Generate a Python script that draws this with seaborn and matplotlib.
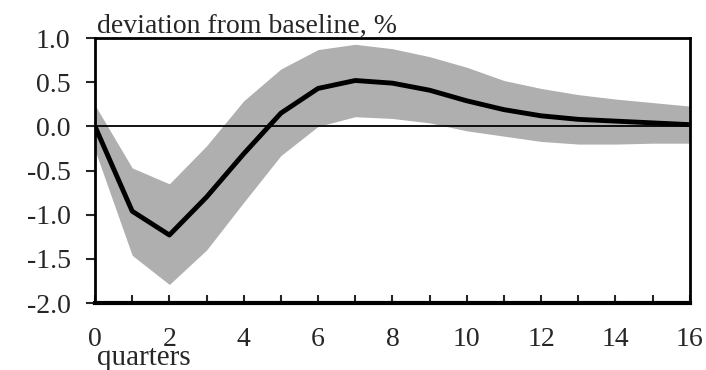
import seaborn as sns
import matplotlib.pyplot as plt
import numpy as np
import pandas as pd

quarters = list(range(17))
response = [0.0, -0.96, -1.23, -0.80, -0.31, 0.15, 0.43, 0.52, 0.49,
            0.41, 0.29, 0.19, 0.12, 0.08, 0.06, 0.04, 0.02]
upper = [0.24, -0.47, -0.65, -0.22, 0.29, 0.65, 0.87, 0.93, 0.88,
         0.79, 0.67, 0.52, 0.43, 0.36, 0.31, 0.27, 0.23]
lower = [-0.27, -1.46, -1.79, -1.40, -0.86, -0.33, 0.0, 0.11, 0.09,
         0.04, -0.05, -0.11, -0.17, -0.20, -0.20, -0.19, -0.19]
yticks = [1.0, 0.5, 0.0, -0.5, -1.0, -1.5, -2.0]
xticks = list(range(0, 17, 2))

df = pd.DataFrame({'quarter': quarters, 'response': response,
                   'upper': upper, 'lower': lower})

sns.set_style('white')
plt.rcParams['font.family'] = ['Liberation Serif', 'DejaVu Serif']
plt.rcParams['font.size'] = 20

fig = plt.figure(figsize=(7.06, 3.70), dpi=100)
ax = fig.add_axes([0.1346, 0.181, 0.977 - 0.1346, 0.897 - 0.181])

# confidence band, zero line, point estimate
ax.fill_between(df['quarter'], df['lower'], df['upper'], color='#afafaf', linewidth=0)
ax.axhline(0, color='black', linewidth=1.3)
sns.lineplot(data=df, x='quarter', y='response', color='black', linewidth=3.5, ax=ax)

ax.set_xlim(0, 16)
ax.set_ylim(-2.0, 1.0)
ax.set_xticks(xticks)
ax.set_xticks(quarters, minor=True)
ax.set_yticks(yticks)
ax.set_yticklabels(['{:.1f}'.format(v) for v in yticks])
ax.tick_params(axis='x', which='both', direction='in', length=6, width=1.5, pad=17, bottom=True)
ax.tick_params(axis='y', direction='out', length=6.5, width=1.5, pad=11, left=True)
for side in ['top', 'right', 'left']:
    ax.spines[side].set_linewidth(2)
    ax.spines[side].set_color('black')
ax.spines['bottom'].set_linewidth(3)
ax.spines['bottom'].set_color('black')

ax.set_xlabel('')
ax.set_ylabel('')
fig.text(0.137, 0.013, 'quarters', ha='left', va='baseline', fontsize=21)
fig.text(0.137, 0.911, 'deviation from baseline, %', ha='left', va='baseline', fontsize=20)

plt.savefig('out.png', dpi=100)
